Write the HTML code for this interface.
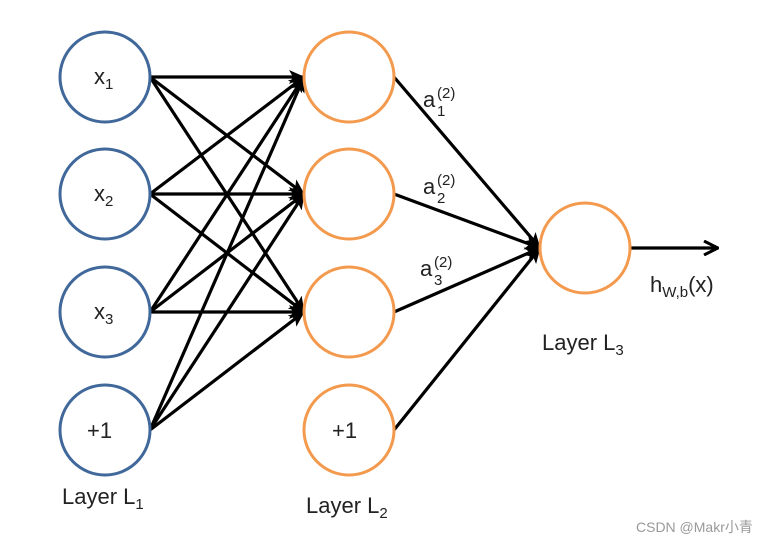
<!DOCTYPE html>
<html><head><meta charset="utf-8"><style>
body{margin:0;background:#fff;}
svg text{font-family:"Liberation Sans","DejaVu Sans",sans-serif;fill:#222;}
</style></head><body>
<svg width="773" height="545" viewBox="0 0 773 545" xmlns="http://www.w3.org/2000/svg">
<defs>
<marker id="ah" markerWidth="16" markerHeight="14" refX="15" refY="7" orient="auto" markerUnits="userSpaceOnUse">
<path d="M0,0 L16,7 L0,14 L4,7 Z" fill="#000"/>
</marker>
<marker id="ao" markerWidth="16" markerHeight="16" refX="15" refY="8" orient="auto" markerUnits="userSpaceOnUse">
<path d="M1,1 L15,8 L1,15" fill="none" stroke="#000" stroke-width="3"/>
</marker>
</defs>
<g stroke="#000" stroke-width="3.2" marker-end="url(#ah)">
<line x1="150" y1="77" x2="304" y2="77"/><line x1="150" y1="77" x2="304" y2="194"/><line x1="150" y1="77" x2="304" y2="312"/>
<line x1="150" y1="194" x2="304" y2="77"/><line x1="150" y1="194" x2="304" y2="194"/><line x1="150" y1="194" x2="304" y2="312"/>
<line x1="150" y1="312" x2="304" y2="77"/><line x1="150" y1="312" x2="304" y2="194"/><line x1="150" y1="312" x2="304" y2="312"/>
<line x1="150" y1="430" x2="304" y2="77"/><line x1="150" y1="430" x2="304" y2="194"/><line x1="150" y1="430" x2="304" y2="312"/>
<line x1="394" y1="77" x2="540" y2="248"/><line x1="394" y1="194" x2="540" y2="248"/><line x1="394" y1="312" x2="540" y2="248"/><line x1="394" y1="430" x2="540" y2="248"/>
</g>
<line x1="631" y1="248" x2="718" y2="248" stroke="#000" stroke-width="3.2" marker-end="url(#ao)"/>
<g fill="#fff" stroke="#41689a" stroke-width="3">
<circle cx="105" cy="77" r="45"/><circle cx="105" cy="194" r="45"/><circle cx="105" cy="312" r="45"/><circle cx="105" cy="430" r="45"/>
</g>
<g fill="#fff" stroke="#f39a4e" stroke-width="3">
<circle cx="349" cy="77" r="45"/><circle cx="349" cy="194" r="45"/><circle cx="349" cy="312" r="45"/><circle cx="349" cy="430" r="45"/>
<circle cx="585" cy="248" r="45"/>
</g>
<g font-size="22">
<text x="94" y="84">x<tspan font-size="15" dy="5">1</tspan></text>
<text x="94" y="201">x<tspan font-size="15" dy="5">2</tspan></text>
<text x="94" y="319">x<tspan font-size="15" dy="5">3</tspan></text>
<text x="87" y="438">+1</text>
<text x="332" y="438">+1</text>
<text x="62" y="504">Layer L<tspan font-size="15" dy="5">1</tspan></text>
<text x="306" y="513">Layer L<tspan font-size="15" dy="5">2</tspan></text>
<text x="542" y="350">Layer L<tspan font-size="15" dy="5">3</tspan></text>
<text x="650" y="292">h<tspan font-size="15" dy="5">W,b</tspan><tspan dy="-5">(x)</tspan></text>
<text x="423" y="107">a</text><text x="423" y="194">a</text><text x="420" y="276">a</text>
</g>
<g font-size="15">
<text x="437" y="98">(2)</text><text x="437" y="116">1</text>
<text x="437" y="185">(2)</text><text x="437" y="203">2</text>
<text x="434" y="267">(2)</text><text x="434" y="285">3</text>
</g>
<text x="636" y="532" font-size="14" style="fill:#999">CSDN @Makr<tspan style="font-family:'Noto Sans CJK SC',sans-serif">小青</tspan></text>
</svg>
</body></html>
